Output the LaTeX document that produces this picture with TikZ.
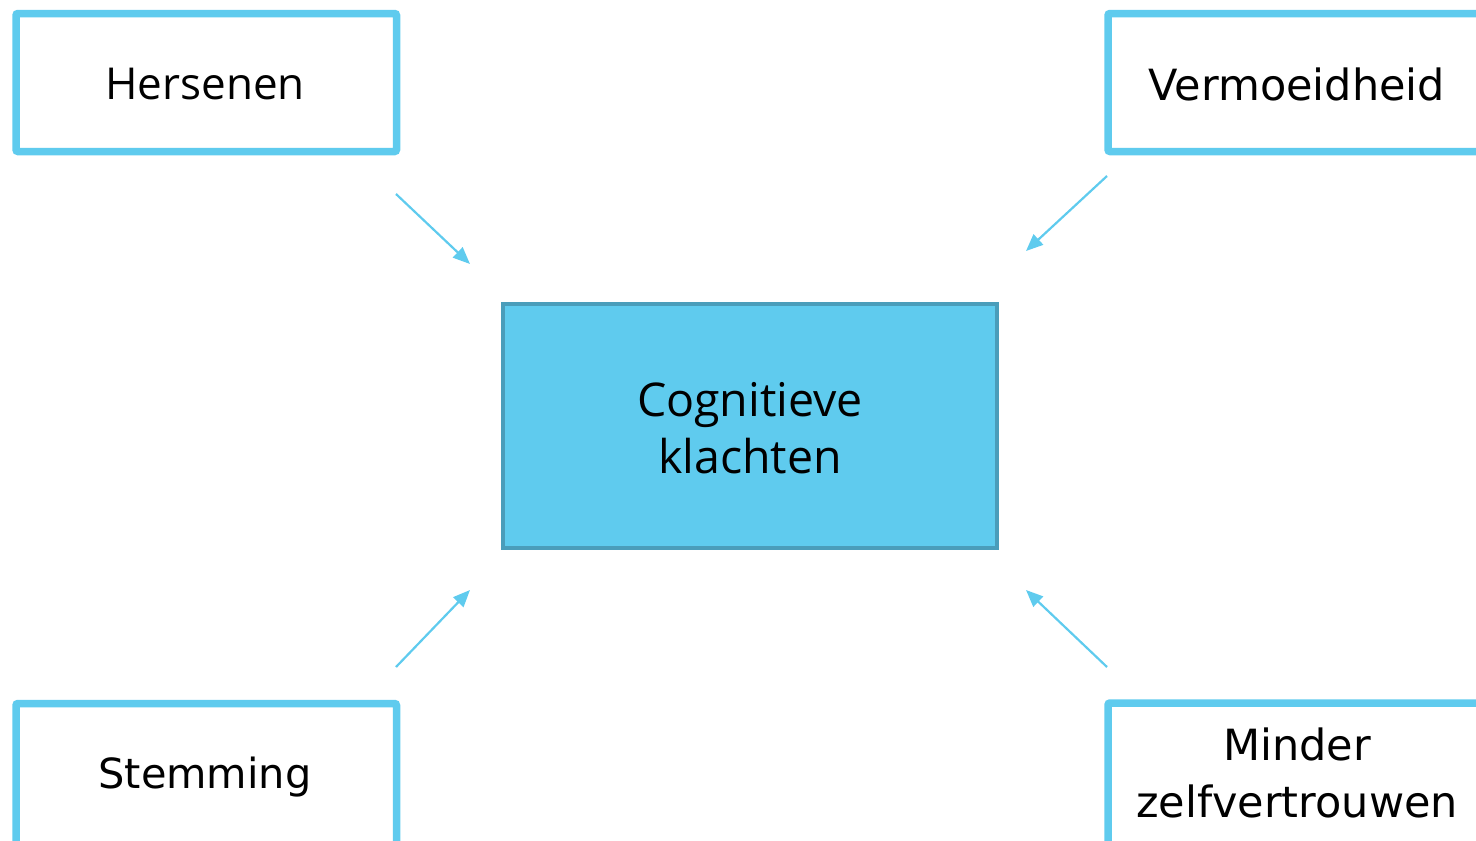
\documentclass[tikz,border=0pt]{standalone}
\usepackage{fontspec}
\setmainfont{Open Sans}
\newfontfamily\tahfont{DejaVu Sans}
\usetikzlibrary{arrows.meta}
\definecolor{lblue}{HTML}{5FCBEE}
\definecolor{dblue}{HTML}{4A9DBA}
\tikzset{
  sidebox/.style={draw=lblue, line width=7.5pt, rounded corners=2pt, fill=white},
  boxtext/.style={align=center, inner sep=0pt, font=\fontsize{44}{56}\selectfont},
  cogtext/.style={align=center, inner sep=0pt, font=\fontsize{46.5}{57}\selectfont},
  tahtext/.style={align=center, inner sep=0pt, font=\tahfont\fontsize{43}{57}\selectfont},
  stemtext/.style={align=center, inner sep=0pt, font=\tahfont\fontsize{41.5}{57}\selectfont},
  centerbox/.style={draw=dblue, line width=3.5pt, fill=lblue},
  conn/.style={draw=lblue, line width=2.2pt, -{Triangle[length=17pt,width=14pt]}}
}
\begin{document}
\begin{tikzpicture}[x=1pt,y=-1pt]
\useasboundingbox (0,0) rectangle (1476,841);
\clip (0,0) rectangle (1476,841);
% side boxes
\draw[sidebox] (16,13.5) rectangle (396.5,151.5);
\node[boxtext] (hers) at (205,84) {Hersenen};
\draw[sidebox] (1108,13.5) rectangle (1490,151.5);
\node[tahtext] (verm) at (1297,84) {Vermoeidheid};
\draw[sidebox] (16,703.5) rectangle (396.5,860);
\node[stemtext] (stem) at (205,777) {Stemming};
\draw[sidebox] (1108,703) rectangle (1490,860);
\node[tahtext] (mind) at (1297,773) {Minder\\zelfvertrouwen};
% center box
\draw[centerbox] (503,304) rectangle (997,548);
\node[cogtext] (cog) at (750,428) {Cognitieve\\klachten};
% arrow endpoints
\coordinate (a1s) at (396,194); \coordinate (a1e) at (470,264);
\coordinate (a2s) at (1107,176); \coordinate (a2e) at (1026,251);
\coordinate (a3s) at (396,667); \coordinate (a3e) at (470,590);
\coordinate (a4s) at (1107,667); \coordinate (a4e) at (1026,590);
\draw[conn] (a1s) -- (a1e);
\draw[conn] (a2s) -- (a2e);
\draw[conn] (a3s) -- (a3e);
\draw[conn] (a4s) -- (a4e);
\end{tikzpicture}
\end{document}
